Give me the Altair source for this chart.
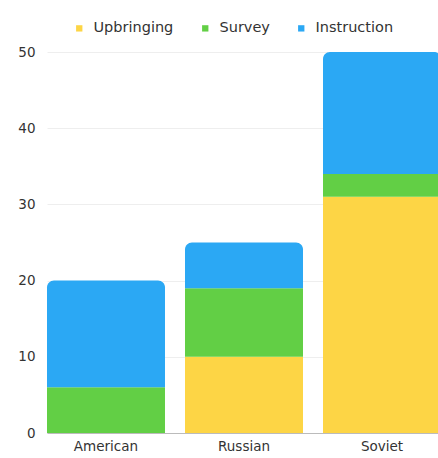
import altair as alt
import pandas as pd

categories = ["American", "Russian", "Soviet"]
series = ["Upbringing", "Survey", "Instruction"]
upbringing = [0, 10, 31]
survey = [6, 9, 3]
instruction = [14, 6, 16]
colors = ["#FDD545", "#62CF45", "#2BA8F4"]

rows = []
for i, c in enumerate(categories):
    for k, (s, vals) in enumerate(zip(series, [upbringing, survey, instruction])):
        rows.append({"cat": c, "series": s, "value": vals[i], "order": k})
df = pd.DataFrame(rows)

FONT = "DejaVu Sans"

color = alt.Color("series:N", scale=alt.Scale(domain=series, range=colors),
                  legend=alt.Legend(title=None, orient="none", direction="horizontal",
                                    legendX=25, legendY=-31, symbolType="square",
                                    symbolSize=40, labelFontSize=14.5, labelColor="#333",
                                    labelFont=FONT, columnPadding=24, labelOffset=7,
                                    symbolStrokeWidth=0))
x = alt.X("cat:N", sort=categories, title=None,
          scale=alt.Scale(paddingInner=0.145, paddingOuter=0, range=[0, 394]),
          axis=alt.Axis(labelAngle=0, ticks=False, domainColor="#bbbbbb",
                        labelFontSize=13.5, labelColor="#333", labelFont=FONT,
                        labelPadding=6))
y = alt.Y("y0:Q", title=None, scale=alt.Scale(domain=[0, 50], nice=False),
          axis=alt.Axis(values=[0, 10, 20, 30, 40, 50], domain=False, ticks=False,
                        gridColor="#eeeeee", labelFontSize=13.5, labelColor="#333",
                        labelFont=FONT, labelPadding=12))

base = alt.Chart(df).transform_stack(
    stack="value", groupby=["cat"], as_=["y0", "y1"],
    sort=[alt.SortField("order", order="ascending")]
)
lower = base.transform_filter(alt.datum.series != "Instruction").mark_bar().encode(
    x=x, y=y, y2="y1:Q", color=color)
upper = base.transform_filter(alt.datum.series == "Instruction").mark_bar(
    cornerRadiusTopLeft=7, cornerRadiusTopRight=7).encode(
    x=x, y=y, y2="y1:Q", color=color)

chart = alt.layer(lower, upper).properties(
    width=391, height=381,
    autosize=alt.AutoSizeParams(type="none"),
    padding={"left": 47, "top": 52, "right": 0, "bottom": 25},
).configure_view(stroke=None)

chart.save("out.html", embed_options={"renderer": "svg", "actions": False})
